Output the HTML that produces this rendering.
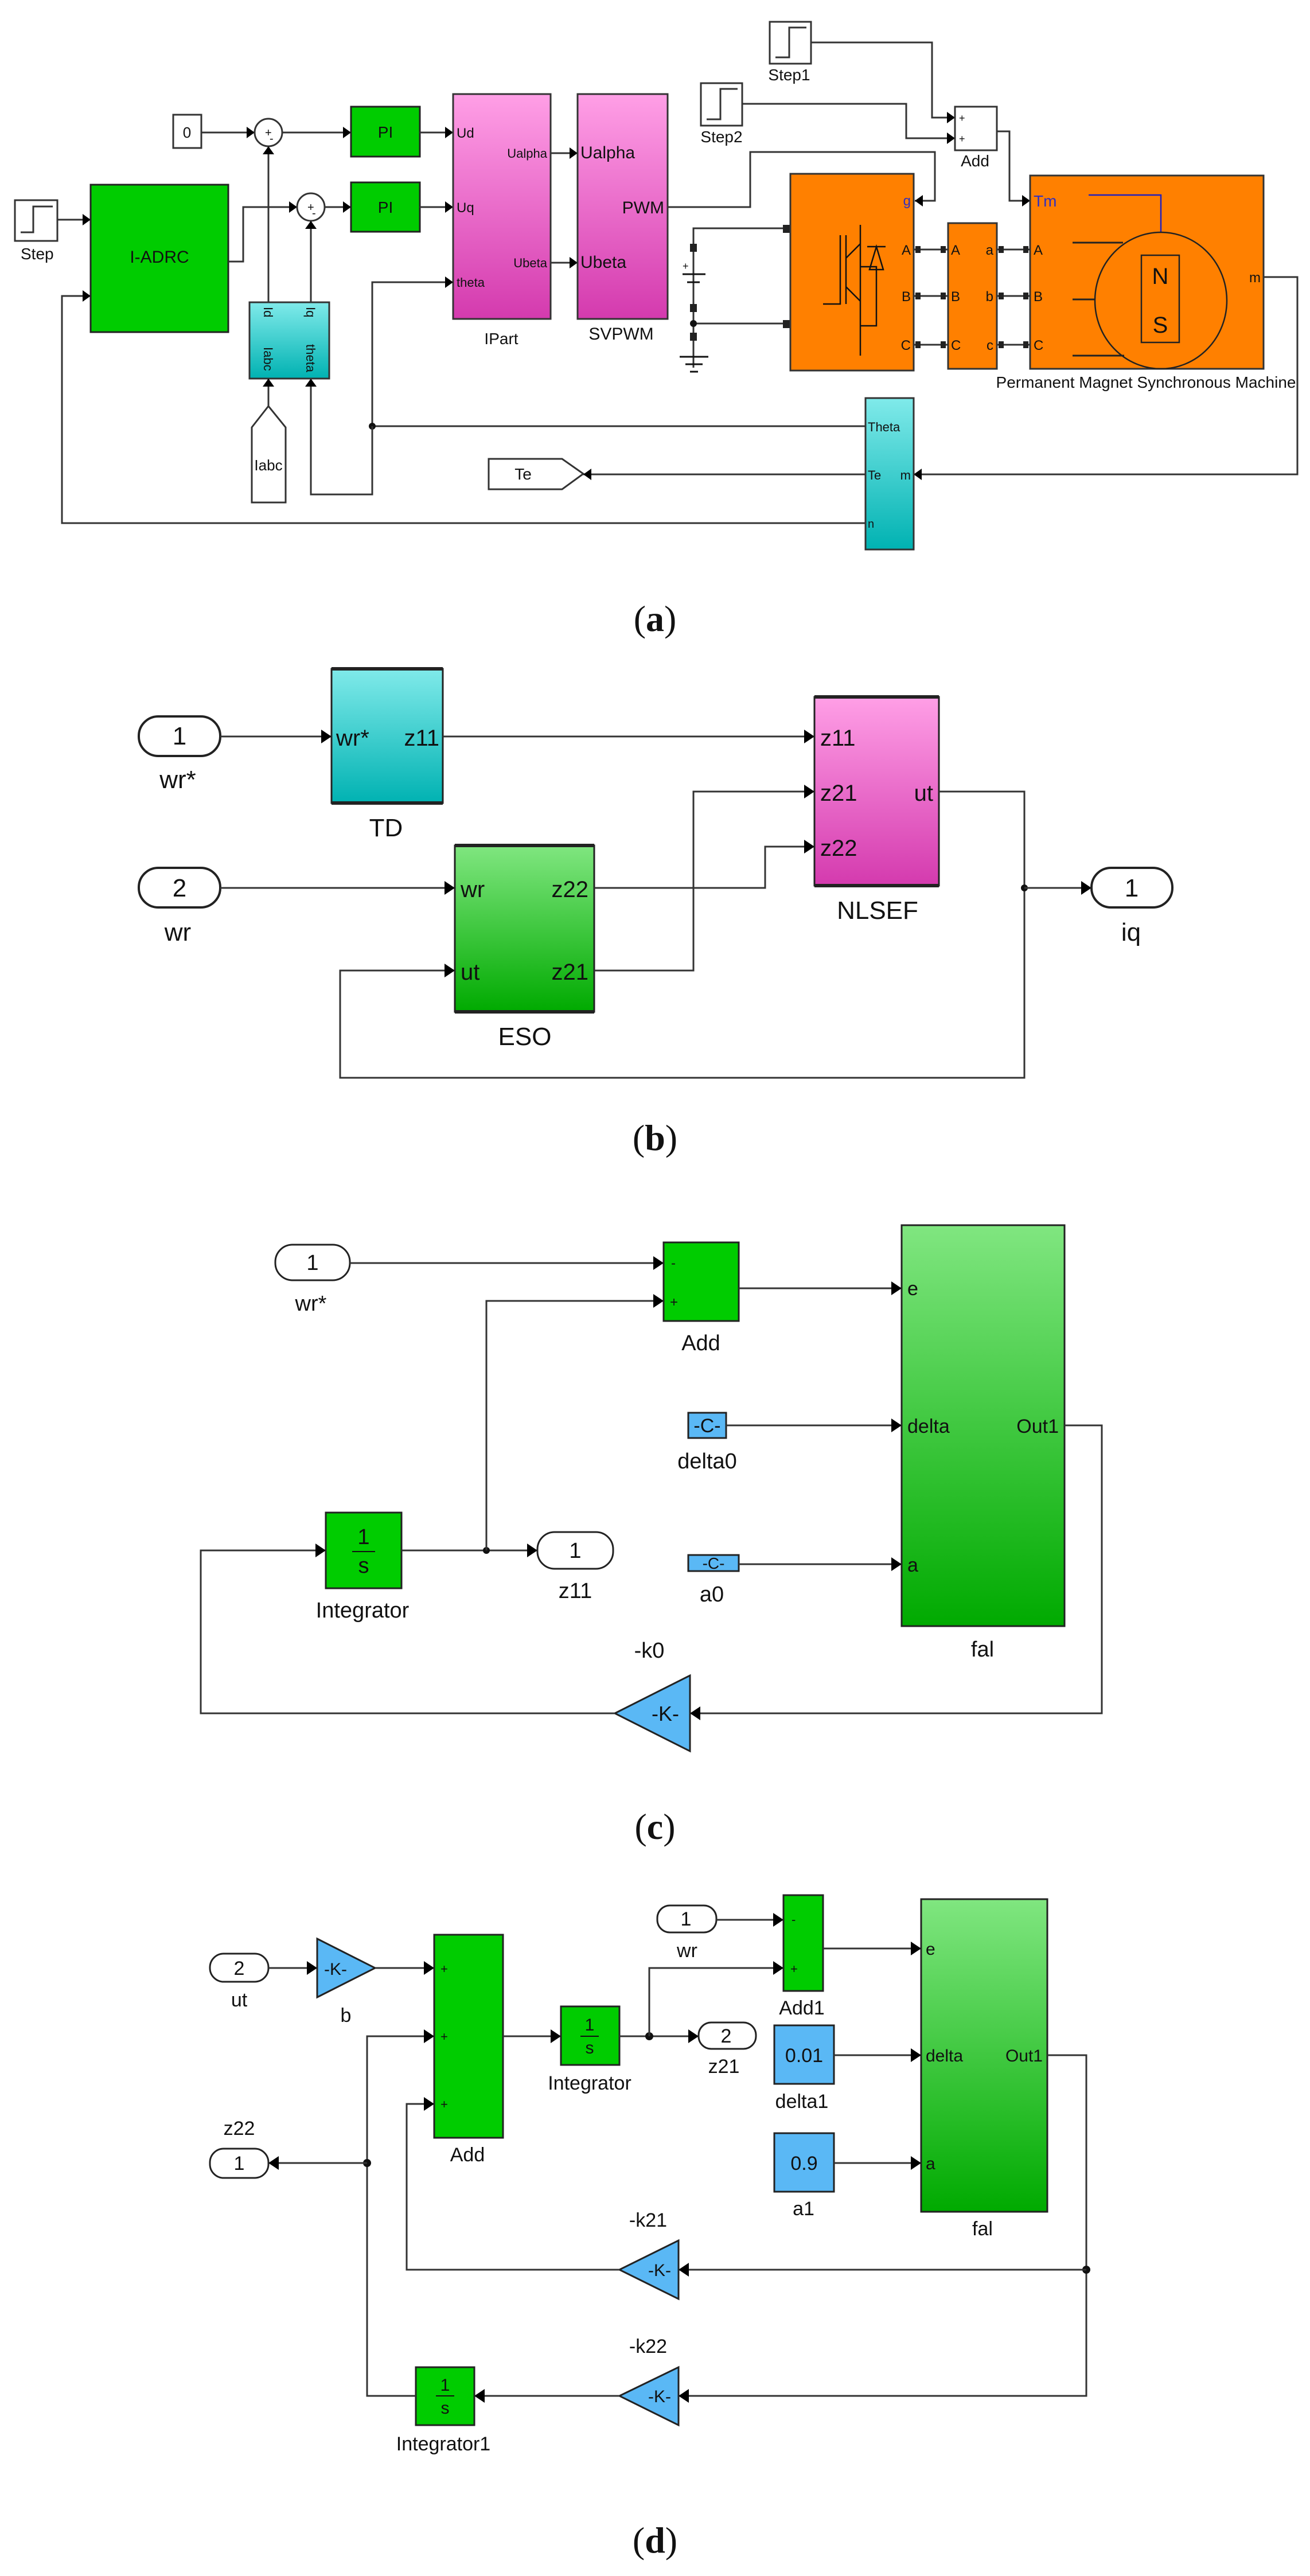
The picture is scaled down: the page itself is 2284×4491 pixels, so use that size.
<!DOCTYPE html>
<html><head><meta charset="utf-8"><style>
html,body{margin:0;padding:0;background:#fff}
svg{display:block}
text{font-family:"Liberation Sans",Arial,sans-serif;fill:#111}
.cap{font-family:"Liberation Serif",serif;font-size:64px}
.w{fill:none;stroke:#333;stroke-width:3}
.bl{stroke:#111;stroke-width:3}
</style></head><body>
<svg width="2284" height="4491" viewBox="0 0 2284 4491" xmlns="http://www.w3.org/2000/svg">
<defs>
<marker id="a" markerUnits="userSpaceOnUse" markerWidth="20" markerHeight="24" refX="18" refY="12" orient="auto"><path d="M0,0 L18,12 L0,24 z" fill="#000"/></marker>
<marker id="s" markerUnits="userSpaceOnUse" markerWidth="16" markerHeight="20" refX="14" refY="10" orient="auto"><path d="M0,0 L14,10 L0,20 z" fill="#000"/></marker>
<linearGradient id="gg" x1="0" y1="0" x2="0" y2="1"><stop offset="0" stop-color="#80e680"/><stop offset="1" stop-color="#00aa00"/></linearGradient>
<linearGradient id="gc" x1="0" y1="0" x2="0" y2="1"><stop offset="0" stop-color="#80eaea"/><stop offset="1" stop-color="#00b2b2"/></linearGradient>
<linearGradient id="gp" x1="0" y1="0" x2="0" y2="1"><stop offset="0" stop-color="#ff9fe6"/><stop offset="1" stop-color="#d43aae"/></linearGradient>
</defs>

<!-- ============ (a) ============ -->
<g font-size="24">
<!-- Step -->
<rect x="26" y="349" width="74" height="71" fill="#fff" stroke="#333" stroke-width="3"/>
<path d="M36,405 H58 V360 H92" class="w"/>
<text x="36" y="452" font-size="28">Step</text>
<path d="M100,383 H158" class="w" marker-end="url(#s)"/>
<!-- I-ADRC -->
<rect x="158" y="322" width="240" height="257" fill="#00cc00" stroke="#222" stroke-width="3"/>
<text x="278" y="458" font-size="30" text-anchor="middle">I-ADRC</text>
<!-- 0 const -->
<rect x="302" y="200" width="49" height="58" fill="#fff" stroke="#333" stroke-width="3"/>
<text x="326" y="240" font-size="26" text-anchor="middle">0</text>
<path d="M351,231 H444" class="w" marker-end="url(#s)"/>
<circle cx="468" cy="231" r="24" fill="#fff" stroke="#333" stroke-width="3"/>
<text x="462" y="238" font-size="20">+</text><text x="470" y="248" font-size="20">-</text>
<path d="M492,231 H612" class="w" marker-end="url(#s)"/>
<path d="M398,456 H424 V361 H518" class="w" marker-end="url(#s)"/>
<circle cx="542" cy="361" r="24" fill="#fff" stroke="#333" stroke-width="3"/>
<text x="536" y="368" font-size="20">+</text><text x="544" y="378" font-size="20">-</text>
<path d="M566,361 H612" class="w" marker-end="url(#s)"/>
<!-- PI -->
<rect x="612" y="186" width="120" height="87" fill="#00cc00" stroke="#222" stroke-width="3"/>
<text x="672" y="240" font-size="28" text-anchor="middle">PI</text>
<rect x="612" y="318" width="120" height="86" fill="#00cc00" stroke="#222" stroke-width="3"/>
<text x="672" y="371" font-size="28" text-anchor="middle">PI</text>
<path d="M732,231 H790" class="w" marker-end="url(#s)"/>
<path d="M732,361 H790" class="w" marker-end="url(#s)"/>
<!-- IPart -->
<rect x="790" y="164" width="170" height="392" fill="url(#gp)" stroke="#333" stroke-width="3"/>
<text x="796" y="240" font-size="24">Ud</text>
<text x="796" y="370" font-size="24">Uq</text>
<text x="796" y="500" font-size="22">theta</text>
<text x="954" y="275" font-size="22" text-anchor="end">Ualpha</text>
<text x="954" y="466" font-size="22" text-anchor="end">Ubeta</text>
<text x="874" y="600" font-size="28" text-anchor="middle">IPart</text>
<path d="M960,267 H1007" class="w" marker-end="url(#s)"/>
<path d="M960,458 H1007" class="w" marker-end="url(#s)"/>
<!-- SVPWM -->
<rect x="1007" y="164" width="157" height="392" fill="url(#gp)" stroke="#333" stroke-width="3"/>
<text x="1012" y="276" font-size="30">Ualpha</text>
<text x="1012" y="467" font-size="30">Ubeta</text>
<text x="1158" y="372" font-size="30" text-anchor="end">PWM</text>
<text x="1083" y="592" font-size="30" text-anchor="middle">SVPWM</text>
<!-- PWM to g -->
<path d="M1164,361 H1308 V265 H1630 V350 H1595" class="w" marker-end="url(#s)"/>
<!-- Step1, Step2 -->
<rect x="1342" y="38" width="72" height="73" fill="#fff" stroke="#333" stroke-width="3"/>
<path d="M1352,100 H1376 V48 H1406" class="w"/>
<text x="1376" y="140" font-size="28" text-anchor="middle">Step1</text>
<rect x="1222" y="145" width="72" height="74" fill="#fff" stroke="#333" stroke-width="3"/>
<path d="M1232,208 H1256 V155 H1286" class="w"/>
<text x="1258" y="248" font-size="28" text-anchor="middle">Step2</text>
<path d="M1414,74 H1625 V205 H1665" class="w" marker-end="url(#s)"/>
<path d="M1294,181 H1580 V241 H1665" class="w" marker-end="url(#s)"/>
<rect x="1665" y="186" width="73" height="76" fill="#fff" stroke="#333" stroke-width="3"/>
<text x="1672" y="212" font-size="18">+</text><text x="1672" y="248" font-size="18">+</text>
<text x="1700" y="290" font-size="28" text-anchor="middle">Add</text>
<path d="M1738,229 H1760 V350 H1796" class="w" marker-end="url(#s)"/>
<!-- DC source -->
<path d="M1370,398 H1209 V641" class="w"/>
<path d="M1209,564 H1370" class="w"/>
<rect x="1203" y="425" width="12" height="14" fill="#222"/>
<rect x="1203" y="530" width="12" height="14" fill="#222"/>
<rect x="1203" y="580" width="12" height="14" fill="#222"/>
<rect x="1365" y="392" width="12" height="14" fill="#222"/>
<rect x="1365" y="558" width="12" height="14" fill="#222"/>
<circle cx="1209" cy="564" r="6" fill="#111"/>
<path d="M1190,478 H1230 M1198,492 H1220" class="bl"/>
<text x="1190" y="470" font-size="18">+</text>
<path d="M1185,622 H1235 M1195,635 H1225 M1203,648 H1217" class="bl"/>
<text x="1385" y="402" font-size="20">+</text><text x="1385" y="568" font-size="20">-</text>
<!-- inverter -->
<rect x="1378" y="303" width="215" height="343" fill="#ff8000" stroke="#333" stroke-width="3"/>
<path d="M1500,392 V620 M1500,465 H1528 V568 H1500 M1465,410 V530 H1435 M1475,410 V530 M1475,450 L1500,425 M1475,500 L1500,525" fill="none" stroke="#111" stroke-width="2.5"/>
<path d="M1512,430 H1544 M1516,470 L1528,430 L1540,470 Z" fill="none" stroke="#111" stroke-width="2.5"/>
<text x="1588" y="358" font-size="24" fill="#3030c0" text-anchor="end" style="fill:#3030c0">g</text>
<text x="1588" y="444" font-size="24" text-anchor="end">A</text>
<text x="1588" y="525" font-size="24" text-anchor="end">B</text>
<text x="1588" y="610" font-size="24" text-anchor="end">C</text>
<!-- connection blocks -->
<rect x="1653" y="389" width="85" height="254" fill="#ff8000" stroke="#333" stroke-width="3"/>
<g font-size="24">
<text x="1658" y="444">A</text><text x="1658" y="525">B</text><text x="1658" y="610">C</text>
<text x="1732" y="444" text-anchor="end">a</text><text x="1732" y="525" text-anchor="end">b</text><text x="1732" y="610" text-anchor="end">c</text>
</g>
<path d="M1593,435 H1653 M1593,516 H1653 M1593,601 H1653 M1738,435 H1796 M1738,516 H1796 M1738,601 H1796" class="w"/>
<g fill="#222">
<rect x="1596" y="429" width="9" height="12"/><rect x="1640" y="429" width="9" height="12"/><rect x="1741" y="429" width="9" height="12"/><rect x="1784" y="429" width="9" height="12"/>
<rect x="1596" y="510" width="9" height="12"/><rect x="1640" y="510" width="9" height="12"/><rect x="1741" y="510" width="9" height="12"/><rect x="1784" y="510" width="9" height="12"/>
<rect x="1596" y="595" width="9" height="12"/><rect x="1640" y="595" width="9" height="12"/><rect x="1741" y="595" width="9" height="12"/><rect x="1784" y="595" width="9" height="12"/>
</g>
<!-- PMSM -->
<rect x="1796" y="306" width="407" height="337" fill="#ff8000" stroke="#333" stroke-width="3"/>
<text x="1802" y="360" font-size="28" style="fill:#3030c0">Tm</text>
<text x="1802" y="444" font-size="24">A</text><text x="1802" y="525" font-size="24">B</text><text x="1802" y="610" font-size="24">C</text>
<text x="2198" y="492" font-size="24" text-anchor="end">m</text>
<path d="M1898,340 H2024 V405" fill="none" stroke="#2020c0" stroke-width="2.5"/>
<ellipse cx="2024" cy="524" rx="115" ry="119" fill="none" stroke="#222" stroke-width="2.5"/>
<rect x="1990" y="445" width="66" height="152" fill="none" stroke="#222" stroke-width="2.5"/>
<text x="2023" y="495" font-size="40" text-anchor="middle">N</text>
<text x="2023" y="580" font-size="40" text-anchor="middle">S</text>
<path d="M1870,423 H1958 M1870,522 H1910 M1870,620 H1960" stroke="#222" stroke-width="3"/>
<text x="1998" y="676" font-size="28" text-anchor="middle">Permanent Magnet Synchronous Machine</text>
<!-- m -> bus -->
<path d="M2203,483 H2262 V827 H1593" class="w" marker-end="url(#s)"/>
<!-- bus selector -->
<rect x="1509" y="694" width="84" height="264" fill="url(#gc)" stroke="#333" stroke-width="3"/>
<text x="1513" y="752" font-size="22">Theta</text>
<text x="1513" y="836" font-size="22">Te</text><text x="1588" y="836" font-size="22" text-anchor="end">m</text>
<text x="1513" y="920" font-size="20">n</text>
<!-- Te goto -->
<path d="M852,800 H980 L1017,826 L980,853 H852 Z" fill="#fff" stroke="#333" stroke-width="3"/>
<text x="912" y="836" font-size="28" text-anchor="middle">Te</text>
<path d="M1509,827 H1017" class="w" marker-end="url(#s)"/>
<!-- theta line -->
<path d="M1509,743 H649 V492 H790" class="w" marker-end="url(#s)"/>
<circle cx="649" cy="743" r="6" fill="#111"/>
<path d="M649,743 V862 H542 V660" class="w" marker-end="url(#s)"/>
<!-- n line -->
<path d="M1509,912 H108 V516 H158" class="w" marker-end="url(#s)"/>
<!-- measurement block -->
<rect x="435" y="527" width="139" height="133" fill="url(#gc)" stroke="#333" stroke-width="3"/>
<text transform="translate(460,535) rotate(90)" font-size="22">Id</text>
<text transform="translate(534,535) rotate(90)" font-size="22">Iq</text>
<text transform="translate(460,605) rotate(90)" font-size="22">Iabc</text>
<text transform="translate(534,600) rotate(90)" font-size="22">theta</text>
<path d="M468,527 V255" class="w" marker-end="url(#s)"/>
<path d="M542,527 V385" class="w" marker-end="url(#s)"/>
<!-- Iabc from -->
<path d="M439,745 L468,708 L498,745 V876 H439 Z" fill="#fff" stroke="#333" stroke-width="3"/>
<text x="468" y="820" font-size="26" text-anchor="middle">Iabc</text>
<path d="M468,708 V660" class="w" marker-end="url(#s)"/>
</g>
<text x="1142" y="1100" class="cap" text-anchor="middle">(<tspan font-weight="bold">a</tspan>)</text>

<!-- ============ (b) ============ -->
<g font-size="44">
<rect x="242" y="1249" width="142" height="69" rx="34" fill="#fff" stroke="#222" stroke-width="4"/>
<text x="313" y="1298" text-anchor="middle">1</text>
<text x="310" y="1374" text-anchor="middle">wr*</text>
<path d="M384,1284 H578" class="w" marker-end="url(#a)"/>
<rect x="578" y="1166" width="194" height="234" fill="url(#gc)" stroke="#222" stroke-width="3"/>
<path d="M578,1166 H772 M578,1400 H772" stroke="#222" stroke-width="6"/>
<text x="586" y="1300" font-size="40">wr*</text><text x="766" y="1300" font-size="40" text-anchor="end">z11</text>
<text x="673" y="1458" text-anchor="middle">TD</text>
<path d="M772,1284 H1420" class="w" marker-end="url(#a)"/>
<rect x="1420" y="1215" width="217" height="329" fill="url(#gp)" stroke="#222" stroke-width="3"/>
<path d="M1420,1215 H1637 M1420,1544 H1637" stroke="#222" stroke-width="6"/>
<text x="1430" y="1300" font-size="40">z11</text>
<text x="1430" y="1396" font-size="40">z21</text>
<text x="1430" y="1492" font-size="40">z22</text>
<text x="1627" y="1396" font-size="40" text-anchor="end">ut</text>
<text x="1530" y="1602" text-anchor="middle">NLSEF</text>
<rect x="242" y="1513" width="142" height="69" rx="34" fill="#fff" stroke="#222" stroke-width="4"/>
<text x="313" y="1563" text-anchor="middle">2</text>
<text x="310" y="1640" text-anchor="middle">wr</text>
<path d="M384,1548 H793" class="w" marker-end="url(#a)"/>
<rect x="793" y="1474" width="243" height="290" fill="url(#gg)" stroke="#222" stroke-width="3"/>
<path d="M793,1474 H1036 M793,1764 H1036" stroke="#222" stroke-width="6"/>
<text x="803" y="1564" font-size="40">wr</text><text x="1026" y="1564" font-size="40" text-anchor="end">z22</text>
<text x="803" y="1708" font-size="40">ut</text><text x="1026" y="1708" font-size="40" text-anchor="end">z21</text>
<text x="915" y="1822" text-anchor="middle">ESO</text>
<path d="M1036,1548 H1334 V1476 H1420" class="w" marker-end="url(#a)"/>
<path d="M1036,1692 H1209 V1380 H1420" class="w" marker-end="url(#a)"/>
<path d="M1637,1380 H1786 V1879 H593 V1692 H793" class="w" marker-end="url(#a)"/>
<circle cx="1786" cy="1548" r="6" fill="#111"/>
<path d="M1786,1548 H1903" class="w" marker-end="url(#a)"/>
<rect x="1903" y="1513" width="141" height="69" rx="34" fill="#fff" stroke="#222" stroke-width="4"/>
<text x="1973" y="1563" text-anchor="middle">1</text>
<text x="1972" y="1640" text-anchor="middle">iq</text>
</g>
<text x="1142" y="2005" class="cap" text-anchor="middle">(<tspan font-weight="bold">b</tspan>)</text>

<!-- ============ (c) ============ -->
<g font-size="38">
<rect x="480" y="2170" width="130" height="62" rx="30" fill="#fff" stroke="#222" stroke-width="3"/>
<text x="545" y="2214" text-anchor="middle">1</text>
<text x="542" y="2285" text-anchor="middle">wr*</text>
<path d="M610,2202 H1157" class="w" marker-end="url(#a)"/>
<rect x="1157" y="2166" width="131" height="137" fill="#00cc00" stroke="#222" stroke-width="3"/>
<text x="1170" y="2210" font-size="24">-</text><text x="1168" y="2278" font-size="24">+</text>
<text x="1222" y="2354" text-anchor="middle">Add</text>
<path d="M1288,2246 H1572" class="w" marker-end="url(#a)"/>
<rect x="1572" y="2136" width="284" height="699" fill="url(#gg)" stroke="#222" stroke-width="3"/>
<text x="1582" y="2258" font-size="34">e</text>
<text x="1582" y="2498" font-size="34">delta</text>
<text x="1846" y="2498" font-size="34" text-anchor="end">Out1</text>
<text x="1582" y="2740" font-size="34">a</text>
<text x="1713" y="2888" text-anchor="middle">fal</text>
<rect x="1200" y="2463" width="66" height="44" fill="#5ab8f5" stroke="#222" stroke-width="3"/>
<text x="1233" y="2497" font-size="34" text-anchor="middle">-C-</text>
<text x="1233" y="2560" text-anchor="middle">delta0</text>
<path d="M1266,2485 H1572" class="w" marker-end="url(#a)"/>
<rect x="1200" y="2711" width="88" height="28" fill="#5ab8f5" stroke="#222" stroke-width="3"/>
<text x="1244" y="2735" font-size="28" text-anchor="middle">-C-</text>
<text x="1241" y="2792" text-anchor="middle">a0</text>
<path d="M1288,2727 H1572" class="w" marker-end="url(#a)"/>
<rect x="568" y="2637" width="132" height="132" fill="#00cc00" stroke="#222" stroke-width="3"/>
<text x="634" y="2692" text-anchor="middle">1</text>
<path d="M614,2705 H654" stroke="#111" stroke-width="2"/>
<text x="634" y="2742" text-anchor="middle">s</text>
<text x="632" y="2820" text-anchor="middle">Integrator</text>
<path d="M700,2703 H937" class="w" marker-end="url(#a)"/>
<circle cx="848" cy="2703" r="6" fill="#111"/>
<path d="M848,2703 V2268 H1157" class="w" marker-end="url(#a)"/>
<rect x="937" y="2671" width="132" height="64" rx="30" fill="#fff" stroke="#222" stroke-width="3"/>
<text x="1003" y="2716" text-anchor="middle">1</text>
<text x="1003" y="2786" text-anchor="middle">z11</text>
<path d="M1856,2485 H1921 V2987 H1203" class="w" marker-end="url(#a)"/>
<path d="M1072,2987 L1203,2921 V3053 Z" fill="#5ab8f5" stroke="#222" stroke-width="3"/>
<text x="1160" y="3000" font-size="36" text-anchor="middle">-K-</text>
<text x="1132" y="2890" text-anchor="middle">-k0</text>
<path d="M1072,2987 H350 V2703 H568" class="w" marker-end="url(#a)"/>
</g>
<text x="1142" y="3206" class="cap" text-anchor="middle">(<tspan font-weight="bold">c</tspan>)</text>

<!-- ============ (d) ============ -->
<g font-size="34">
<rect x="366" y="3406" width="102" height="49" rx="24" fill="#fff" stroke="#222" stroke-width="3"/>
<text x="417" y="3443" text-anchor="middle">2</text>
<text x="417" y="3498" text-anchor="middle">ut</text>
<path d="M468,3431 H553" class="w" marker-end="url(#a)"/>
<path d="M553,3380 L654,3431 L553,3482 Z" fill="#5ab8f5" stroke="#222" stroke-width="3"/>
<text x="585" y="3443" font-size="30" text-anchor="middle">-K-</text>
<text x="603" y="3525" text-anchor="middle">b</text>
<path d="M654,3431 H757" class="w" marker-end="url(#a)"/>
<rect x="757" y="3373" width="120" height="354" fill="#00cc00" stroke="#222" stroke-width="3"/>
<text x="768" y="3440" font-size="22">+</text><text x="768" y="3558" font-size="22">+</text><text x="768" y="3676" font-size="22">+</text>
<text x="815" y="3768" text-anchor="middle">Add</text>
<path d="M877,3550 H978" class="w" marker-end="url(#a)"/>
<rect x="978" y="3498" width="102" height="102" fill="#00cc00" stroke="#222" stroke-width="3"/>
<text x="1028" y="3540" font-size="30" text-anchor="middle">1</text>
<path d="M1012,3550 H1044" stroke="#111" stroke-width="2"/>
<text x="1028" y="3580" font-size="30" text-anchor="middle">s</text>
<text x="1028" y="3643" text-anchor="middle">Integrator</text>
<path d="M1080,3550 H1218" class="w" marker-end="url(#a)"/>
<circle cx="1132" cy="3550" r="7" fill="#111"/>
<path d="M1132,3550 V3431 H1366" class="w" marker-end="url(#a)"/>
<rect x="1218" y="3526" width="100" height="46" rx="22" fill="#fff" stroke="#222" stroke-width="3"/>
<text x="1266" y="3561" text-anchor="middle">2</text>
<text x="1262" y="3614" text-anchor="middle">z21</text>
<rect x="1146" y="3322" width="103" height="47" rx="22" fill="#fff" stroke="#222" stroke-width="3"/>
<text x="1196" y="3357" text-anchor="middle">1</text>
<text x="1198" y="3412" text-anchor="middle">wr</text>
<path d="M1249,3347 H1366" class="w" marker-end="url(#a)"/>
<rect x="1366" y="3304" width="69" height="167" fill="#00cc00" stroke="#222" stroke-width="3"/>
<text x="1380" y="3354" font-size="22">-</text><text x="1378" y="3440" font-size="22">+</text>
<text x="1398" y="3512" text-anchor="middle">Add1</text>
<path d="M1435,3397 H1606" class="w" marker-end="url(#a)"/>
<rect x="1606" y="3311" width="220" height="545" fill="url(#gg)" stroke="#222" stroke-width="3"/>
<text x="1614" y="3408" font-size="30">e</text>
<text x="1614" y="3594" font-size="30">delta</text>
<text x="1818" y="3594" font-size="30" text-anchor="end">Out1</text>
<text x="1614" y="3782" font-size="30">a</text>
<text x="1713" y="3897" text-anchor="middle">fal</text>
<rect x="1350" y="3531" width="104" height="102" fill="#5ab8f5" stroke="#222" stroke-width="3"/>
<text x="1402" y="3595" text-anchor="middle">0.01</text>
<text x="1398" y="3675" text-anchor="middle">delta1</text>
<path d="M1454,3583 H1606" class="w" marker-end="url(#a)"/>
<rect x="1350" y="3719" width="104" height="102" fill="#5ab8f5" stroke="#222" stroke-width="3"/>
<text x="1402" y="3783" text-anchor="middle">0.9</text>
<text x="1401" y="3862" text-anchor="middle">a1</text>
<path d="M1454,3771 H1606" class="w" marker-end="url(#a)"/>
<path d="M1826,3583 H1894 V4177 H1183" class="w" marker-end="url(#a)"/>
<circle cx="1894" cy="3957" r="7" fill="#111"/>
<path d="M1894,3957 H1183" class="w" marker-end="url(#a)"/>
<path d="M1080,3957 L1183,3906 V4008 Z" fill="#5ab8f5" stroke="#222" stroke-width="3"/>
<text x="1150" y="3968" font-size="30" text-anchor="middle">-K-</text>
<text x="1130" y="3882" text-anchor="middle">-k21</text>
<path d="M1080,4177 L1183,4127 V4228 Z" fill="#5ab8f5" stroke="#222" stroke-width="3"/>
<text x="1150" y="4188" font-size="30" text-anchor="middle">-K-</text>
<text x="1130" y="4102" text-anchor="middle">-k22</text>
<path d="M1080,3957 H709 V3668 H757" class="w" marker-end="url(#a)"/>
<path d="M1080,4177 H827" class="w" marker-end="url(#a)"/>
<rect x="725" y="4127" width="102" height="101" fill="#00cc00" stroke="#222" stroke-width="3"/>
<text x="776" y="4168" font-size="30" text-anchor="middle">1</text>
<path d="M760,4177 H792" stroke="#111" stroke-width="2"/>
<text x="776" y="4208" font-size="30" text-anchor="middle">s</text>
<text x="773" y="4272" text-anchor="middle">Integrator1</text>
<path d="M725,4177 H640 V3550 H757" class="w" marker-end="url(#a)"/>
<circle cx="640" cy="3771" r="7" fill="#111"/>
<path d="M640,3771 H468" class="w" marker-end="url(#a)"/>
<rect x="366" y="3746" width="102" height="51" rx="24" fill="#fff" stroke="#222" stroke-width="3"/>
<text x="417" y="3783" text-anchor="middle">1</text>
<text x="417" y="3722" text-anchor="middle">z22</text>
</g>
<text x="1142" y="4450" class="cap" text-anchor="middle">(<tspan font-weight="bold">d</tspan>)</text>
</svg>
</body></html>
